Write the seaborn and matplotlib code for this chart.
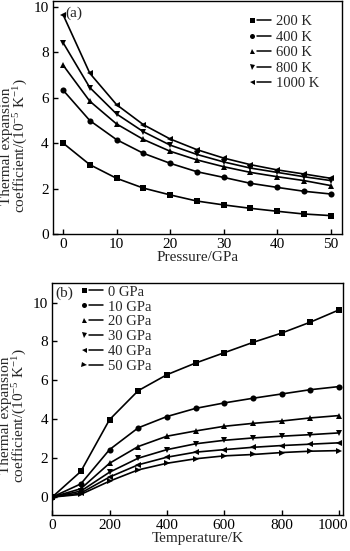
import matplotlib
matplotlib.use('agg')
import matplotlib.pyplot as plt
import matplotlib.transforms as mtrans
import seaborn as sns
from matplotlib.lines import Line2D
from matplotlib.legend_handler import HandlerBase

sns.set_style('ticks')
plt.rcParams['font.family'] = ['Liberation Serif', 'DejaVu Serif']
plt.rcParams['mathtext.fontset'] = 'custom'
plt.rcParams['mathtext.rm'] = 'Liberation Serif'
plt.rcParams['mathtext.it'] = 'Liberation Serif:italic'
plt.rcParams['font.size'] = 11

# (a) alpha vs pressure at fixed temperature
pressure = [0, 5, 10, 15, 20, 25, 30, 35, 40, 45, 50]
temp_labels = ['200 K', '400 K', '600 K', '800 K', '1000 K']
alpha_200k = [4.00, 3.05, 2.45, 2.02, 1.72, 1.45, 1.28, 1.13, 1.00, 0.88, 0.81]
alpha_400k = [6.33, 4.99, 4.15, 3.55, 3.11, 2.74, 2.49, 2.23, 2.05, 1.88, 1.76]
alpha_600k = [7.43, 5.84, 4.84, 4.16, 3.64, 3.26, 2.96, 2.71, 2.52, 2.35, 2.13]
alpha_800k = [8.42, 6.44, 5.28, 4.50, 3.91, 3.50, 3.17, 2.90, 2.71, 2.52, 2.35]
alpha_1000k = [9.65, 7.07, 5.69, 4.81, 4.18, 3.71, 3.34, 3.05, 2.82, 2.64, 2.45]

# (b) alpha vs temperature at fixed pressure
temperature = [0, 100, 200, 300, 400, 500, 600, 700, 800, 900, 1000]
press_labels = ['0 GPa', '10 GPa', '20 GPa', '30 GPa', '40 GPa', '50 GPa']
alpha_0gpa = [0.0, 1.32, 3.98, 5.47, 6.29, 6.89, 7.42, 7.95, 8.43, 8.99, 9.62]
alpha_10gpa = [0.0, 0.68, 2.44, 3.56, 4.14, 4.56, 4.84, 5.08, 5.30, 5.52, 5.68]
alpha_20gpa = [0.0, 0.43, 1.74, 2.60, 3.13, 3.40, 3.64, 3.79, 3.91, 4.07, 4.19]
alpha_30gpa = [0.0, 0.31, 1.28, 2.00, 2.44, 2.74, 2.92, 3.04, 3.13, 3.21, 3.30]
alpha_40gpa = [0.0, 0.21, 1.03, 1.66, 2.05, 2.31, 2.44, 2.56, 2.65, 2.72, 2.79]
alpha_50gpa = [0.0, 0.14, 0.82, 1.40, 1.74, 1.97, 2.12, 2.19, 2.29, 2.36, 2.39]

marks = ['s', 'o', '^', 'v', '<', '>']
ylab = 'Thermal expansion\ncoefficient/(10$^{-5}$ K$^{-1}$)'


class MarkDash(HandlerBase):
    # marker on the left, short dash on the right: "■—"
    def create_artists(self, legend, orig, xd, yd, width, height, fontsize, trans):
        y = height / 2 - yd
        m = Line2D([width * 0.12 - xd], [y], ls='none', marker=orig.get_marker(),
                   markersize=3.6, markeredgewidth=0, color='black', transform=trans)
        d = Line2D([width * 0.36 - xd, width - xd], [y, y], color='black',
                   lw=1.1, transform=trans)
        return [m, d]


fig = plt.figure(figsize=(3.5, 5.51), dpi=100)
ax1 = fig.add_axes([0.151, 0.5753, 0.826, 0.423])
ax2 = fig.add_axes([0.149, 0.0653, 0.831, 0.421])


def draw(ax, xs, series):
    handles = []
    for ys, m in zip(series, marks):
        sns.lineplot(x=xs, y=ys, ax=ax, color='black', lw=1.2, marker=m,
                     markersize=4.4, markeredgewidth=0, legend=False)
        handles.append(Line2D([], [], marker=m, color='black'))
    return handles


h1 = draw(ax1, pressure, [alpha_200k, alpha_400k, alpha_600k, alpha_800k, alpha_1000k])
h2 = draw(ax2, temperature, [alpha_0gpa, alpha_10gpa, alpha_20gpa, alpha_30gpa,
                             alpha_40gpa, alpha_50gpa])

ax1.set_xlim(-1.9, 52.1)
ax1.set_ylim(0, 10.25)
ax1.set_xticks([0, 10, 20, 30, 40, 50])
ax1.set_yticks([0, 2, 4, 6, 8, 10])
ax1.set_xlabel('Pressure/GPa', labelpad=0)
ax1.set_ylabel(ylab, linespacing=0.95, fontsize=11)
ax1.yaxis.set_label_coords(-0.078, 0.378)
ax1.text(0.045, 0.975, '(a)', transform=ax1.transAxes, va='top', ha='left')
ax1.legend(h1, temp_labels, loc='upper left', bbox_to_anchor=(0.68, 0.94),
           frameon=False, handler_map={Line2D: MarkDash()}, fontsize=10.5,
           handlelength=1.5, handletextpad=0.35, labelspacing=0.16, borderpad=0,
           borderaxespad=0)

ax2.set_xlim(0, 1014)
ax2.set_ylim(-0.92, 11)
ax2.set_xticks([0, 200, 400, 600, 800, 1000])
ax2.set_yticks([0, 2, 4, 6, 8, 10])
ax2.set_xlabel('Temperature/K', labelpad=0)
ax2.set_ylabel(ylab, linespacing=0.95, fontsize=11)
ax2.yaxis.set_label_coords(-0.078, 0.43)
ax2.text(0.012, 0.985, '(b)', transform=ax2.transAxes, va='top', ha='left')
ax2.legend(h2, press_labels, loc='upper left', bbox_to_anchor=(0.1, 0.99),
           frameon=False, handler_map={Line2D: MarkDash()}, fontsize=10.5,
           handlelength=1.5, handletextpad=0.35, labelspacing=0.12, borderpad=0,
           borderaxespad=0)

for ax in (ax1, ax2):
    for s in ax.spines.values():
        s.set_linewidth(1.0)
        s.set_color('black')
    ax.tick_params(direction='in', length=3.5, width=1.0, colors='black',
                   labelsize=11, pad=3, top=False, right=False)

# the last temperature label sits at the figure edge; nudge it inward
fig.canvas.draw()
last = ax2.get_xticklabels()[-1]
last.set_transform(last.get_transform() +
                   mtrans.ScaledTranslation(-6 / 100, 0, fig.dpi_scale_trans))

fig.savefig('out.png', dpi=100)
